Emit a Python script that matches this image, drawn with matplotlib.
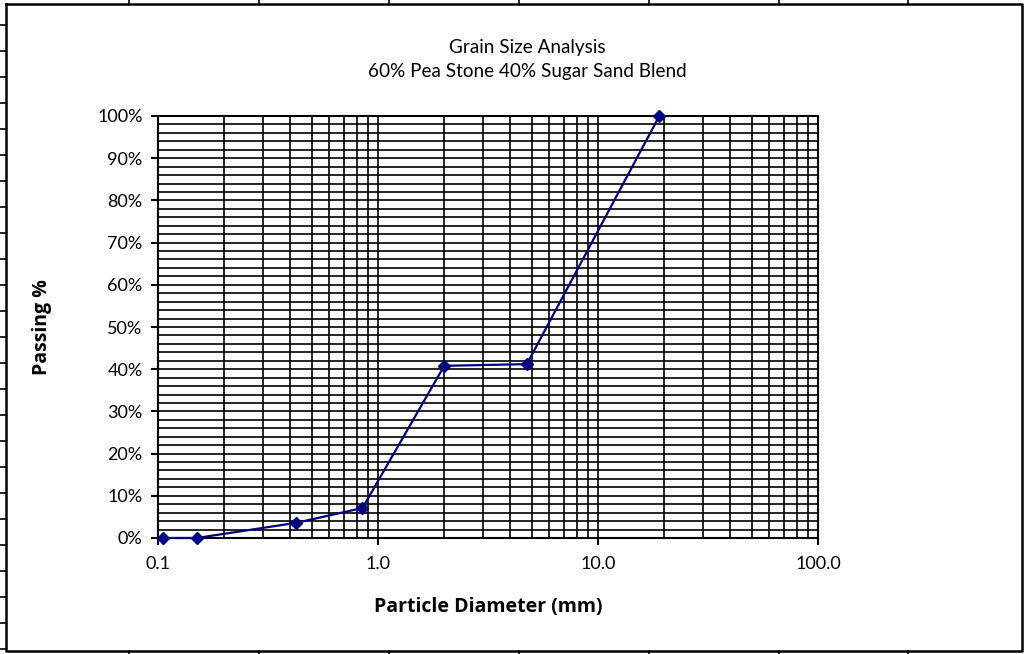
import matplotlib
matplotlib.use("Agg")
import matplotlib.pyplot as plt
from matplotlib.lines import Line2D
from matplotlib.ticker import FixedLocator, NullFormatter, FuncFormatter, LogLocator

# Sieve analysis results
diameter_mm = [0.105, 0.150, 0.425, 0.85, 2.0, 4.75, 19.0]
passing_pct = [0.0, 0.0, 3.6, 7.1, 40.8, 41.2, 100.0]

x_ticks = [0.1, 1.0, 10.0, 100.0]
y_ticks = [0, 10, 20, 30, 40, 50, 60, 70, 80, 90, 100]

title_lines = ["Grain Size Analysis", "60% Pea Stone 40% Sugar Sand Blend"]
x_label = "Particle Diameter (mm)"
y_label = "Passing %"

W, H = 1029, 654
fig = plt.figure(figsize=(W / 100, H / 100), dpi=100)
plt.rcParams["font.family"] = ["Lato", "DejaVu Sans"]

# outer chart border with sheet grid ticks around it
def px(x, y):
    return x / W, 1 - y / H

left, top, right, bottom = 6, 4, 1022, 651
bx = [left, right, right, left, left]
by = [top, top, bottom, bottom, top]
fig.add_artist(Line2D([px(x, 0)[0] for x in bx], [px(0, y)[1] for y in by],
                      color="black", lw=1.8, transform=fig.transFigure))
for cx in [129, 259, 389, 519, 649, 779, 908]:
    fig.add_artist(Line2D([px(cx, 0)[0]] * 2, [px(0, 0)[1], px(0, top)[1]],
                          color="black", lw=1.2, transform=fig.transFigure))
    fig.add_artist(Line2D([px(cx, 0)[0]] * 2, [px(0, bottom)[1], px(0, H)[1]],
                          color="black", lw=1.2, transform=fig.transFigure))
for cy in range(25, 650, 26):
    fig.add_artist(Line2D([px(0, 0)[0], px(left, 0)[0]], [px(0, cy)[1]] * 2,
                          color="black", lw=1.2, transform=fig.transFigure))

ax = fig.add_axes([158 / W, 1 - 538 / H, 660 / W, 422 / H])
ax.set_xscale("log")
ax.set_xlim(0.1, 100)
ax.set_ylim(0, 100)

ax.xaxis.set_major_locator(FixedLocator(x_ticks))
ax.xaxis.set_major_formatter(FuncFormatter(lambda v, p: f"{v:.1f}"))
ax.xaxis.set_minor_locator(LogLocator(base=10, subs=range(2, 10)))
ax.xaxis.set_minor_formatter(NullFormatter())
ax.yaxis.set_major_locator(FixedLocator(y_ticks))
ax.yaxis.set_major_formatter(FuncFormatter(lambda v, p: f"{v:.0f}%"))
ax.yaxis.set_minor_locator(FixedLocator(range(0, 101, 2)))

ax.grid(True, which="both", color="black", lw=1.2)
ax.set_axisbelow(True)
for s in ax.spines.values():
    s.set_linewidth(1.5)
ax.tick_params(which="major", direction="out", length=5, width=1.5, labelsize=13, pad=6,
               colors="black")
ax.tick_params(axis="x", which="major", pad=8)
ax.tick_params(which="minor", length=0)

ax.plot(diameter_mm, passing_pct, color="#00007f", lw=1.6, marker="D", ms=6.5,
        markerfacecolor="#000080", markeredgecolor="#000080", clip_on=False, zorder=5)

label_font = dict(fontsize=14, fontweight="bold", family=["Open Sans", "DejaVu Sans"])
ax.set_xlabel(x_label, labelpad=18, **label_font)
ax.set_ylabel(y_label, **label_font)
ax.yaxis.set_label_coords((42 - 158) / 660, 0.5)
ax.yaxis.label.set_va("center")

fig.text(527 / W, 1 - 48 / H, title_lines[0], ha="center", va="center", fontsize=13.6)
fig.text(527 / W, 1 - 72 / H, title_lines[1], ha="center", va="center", fontsize=13.6)

fig.savefig("out.png", dpi=100)
